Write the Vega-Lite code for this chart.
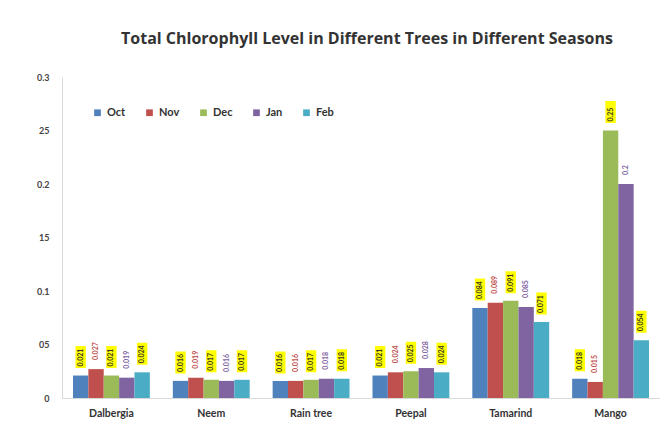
{
  "$schema": "https://vega.github.io/schema/vega-lite/v6.json",
  "width": 598,
  "height": 321,
  "autosize": {"type": "none"},
  "padding": {"left": 62, "top": 77, "right": 0, "bottom": 47},
  "background": "white",
  "config": {"view": {"stroke": null}, "font": "Lato"},
  "title": {
    "text": "Total Chlorophyll  Level in Different Trees in Different Seasons",
    "font": "Open Sans",
    "fontSize": 16,
    "fontWeight": "bold",
    "color": "#333333",
    "offset": 26,
    "dx": 6
  },
  "data": {
    "values": [
      {"tree": "Dalbergia", "month": "Oct", "value": 0.021},
      {"tree": "Dalbergia", "month": "Nov", "value": 0.027},
      {"tree": "Dalbergia", "month": "Dec", "value": 0.021},
      {"tree": "Dalbergia", "month": "Jan", "value": 0.019},
      {"tree": "Dalbergia", "month": "Feb", "value": 0.024},
      {"tree": "Neem", "month": "Oct", "value": 0.016},
      {"tree": "Neem", "month": "Nov", "value": 0.019},
      {"tree": "Neem", "month": "Dec", "value": 0.017},
      {"tree": "Neem", "month": "Jan", "value": 0.016},
      {"tree": "Neem", "month": "Feb", "value": 0.017},
      {"tree": "Rain tree", "month": "Oct", "value": 0.016},
      {"tree": "Rain tree", "month": "Nov", "value": 0.016},
      {"tree": "Rain tree", "month": "Dec", "value": 0.017},
      {"tree": "Rain tree", "month": "Jan", "value": 0.018},
      {"tree": "Rain tree", "month": "Feb", "value": 0.018},
      {"tree": "Peepal", "month": "Oct", "value": 0.021},
      {"tree": "Peepal", "month": "Nov", "value": 0.024},
      {"tree": "Peepal", "month": "Dec", "value": 0.025},
      {"tree": "Peepal", "month": "Jan", "value": 0.028},
      {"tree": "Peepal", "month": "Feb", "value": 0.024},
      {"tree": "Tamarind", "month": "Oct", "value": 0.084},
      {"tree": "Tamarind", "month": "Nov", "value": 0.089},
      {"tree": "Tamarind", "month": "Dec", "value": 0.091},
      {"tree": "Tamarind", "month": "Jan", "value": 0.085},
      {"tree": "Tamarind", "month": "Feb", "value": 0.071},
      {"tree": "Mango", "month": "Oct", "value": 0.018},
      {"tree": "Mango", "month": "Nov", "value": 0.015},
      {"tree": "Mango", "month": "Dec", "value": 0.25},
      {"tree": "Mango", "month": "Jan", "value": 0.2},
      {"tree": "Mango", "month": "Feb", "value": 0.054}
    ]
  },
  "encoding": {
    "x": {
      "field": "tree",
      "type": "nominal",
      "sort": ["Dalbergia", "Neem", "Rain tree", "Peepal", "Tamarind", "Mango"],
      "scale": {"paddingInner": 0.23, "paddingOuter": 0.11},
      "axis": {
        "title": null,
        "labelAngle": 0,
        "ticks": false,
        "domainColor": "#d9d9d9",
        "labelFont": "Lato",
        "labelFontWeight": "bold",
        "labelFontSize": 10.5,
        "labelColor": "#333333",
        "labelPadding": 10
      }
    },
    "xOffset": {
      "field": "month",
      "type": "nominal",
      "sort": ["Oct", "Nov", "Dec", "Jan", "Feb"],
      "scale": {"domain": ["Oct", "Nov", "Dec", "Jan", "Feb"]}
    },
    "y": {
      "field": "value",
      "type": "quantitative",
      "scale": {"domain": [0, 0.3], "nice": false},
      "axis": {
        "title": null,
        "values": [0, 0.05, 0.1, 0.15, 0.2, 0.25, 0.3],
        "labelExpr": "datum.value == 0 ? '0' : (round(datum.value * 100) % 10 == 0 ? format(datum.value, '.1f') : replace(format(datum.value, '.2f'), '0.', ''))",
        "grid": false,
        "ticks": false,
        "domainColor": "#d9d9d9",
        "labelFont": "Lato",
        "labelFontWeight": "bold",
        "labelFontSize": 9,
        "labelColor": "#444444",
        "labelPadding": 13
      }
    }
  },
  "layer": [
    {
      "transform": [{"filter": "indexof(['Oct', 'Dec', 'Feb'], datum.month) >= 0"}],
      "mark": {
        "type": "bar",
        "color": "#ffff00",
        "stroke": "white",
        "strokeWidth": 5,
        "yOffset": -5,
        "y2Offset": -32
      },
      "encoding": {"y2": {"field": "value"}}
    },
    {
      "mark": {"type": "bar"},
      "encoding": {
        "color": {
          "field": "month",
          "type": "nominal",
          "sort": ["Oct", "Nov", "Dec", "Jan", "Feb"],
          "scale": {
            "domain": ["Oct", "Nov", "Dec", "Jan", "Feb"],
            "range": ["#4f81bd", "#c0504d", "#9bbb59", "#8064a2", "#4bacc6"]
          },
          "legend": {
            "title": null,
            "orient": "none",
            "legendX": 30,
            "legendY": 30,
            "direction": "horizontal",
            "symbolType": "square",
            "symbolSize": 45,
            "symbolStrokeWidth": 0,
            "labelFont": "Lato",
            "labelFontSize": 11,
            "labelFontWeight": "bold",
            "labelColor": "#333333",
            "columnPadding": 18
          }
        }
      }
    },
    {
      "mark": {
        "type": "text",
        "angle": 270,
        "align": "left",
        "baseline": "middle",
        "font": "Lato",
        "fontSize": 7,
        "fontWeight": "bold",
        "yOffset": -9
      },
      "encoding": {
        "text": {"field": "value", "type": "quantitative", "format": ".4~f"},
        "color": {
          "condition": [
            {"test": "datum.month === 'Nov'", "value": "#c0504d"},
            {"test": "datum.month === 'Jan'", "value": "#8064a2"}
          ],
          "value": "#3a3a20"
        }
      }
    }
  ]
}
